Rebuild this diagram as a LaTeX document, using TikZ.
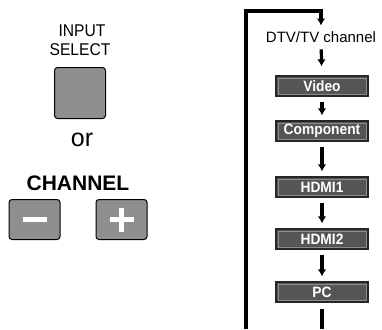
\documentclass[tikz,border=0pt]{standalone}
\usepackage{fontspec}
\setmainfont{Liberation Sans}
\newfontfamily\condfont[FakeStretch=0.92]{Liberation Sans}
\usetikzlibrary{arrows.meta,positioning}
\definecolor{btngray}{HTML}{8F8F91}
\definecolor{boxgray}{HTML}{555555}
\definecolor{bevel}{HTML}{8C8C8C}

\begin{document}
\begin{tikzpicture}[x=1pt,y=-1pt,>={Latex[length=7pt,width=8.5pt]},line width=3.2pt]
\tikzstyle{button}=[draw=black,line width=1pt,fill=btngray,rounded corners=3pt,inner sep=0pt]
\tikzstyle{source}=[draw=black!85,line width=1.2pt,fill=boxgray,text=white,minimum width=92pt,minimum height=20pt,inner sep=0pt,
  font=\condfont\bfseries\fontsize{15}{15}\selectfont,
  path picture={\draw[bevel,line width=0.8pt] ([shift={(2pt,-2pt)}]path picture bounding box.north west) rectangle ([shift={(-2pt,2pt)}]path picture bounding box.south east);}]
\tikzstyle{flow}=[->,shorten <=5pt,shorten >=5pt]
\tikzstyle{keyname}=[font=\condfont\fontsize{17}{17}\selectfont,inner sep=0pt]
\useasboundingbox (0,0) rectangle (382,329);
% buttons on the remote
\node[keyname] (input) at (82,31) {INPUT};
\node[keyname] (select) at (80,50) {SELECT};
\node[button,minimum size=51pt] (selbtn) at (80,93) {};
\node[font=\fontsize{25}{25}\selectfont] (or) at (82,140) {or};
\node[font=\bfseries\fontsize{21}{21}\selectfont] (channel) at (78,183) {CHANNEL};
\node[button,minimum width=51pt,minimum height=40pt] (chminus) at (34.5,219.5) {};
\node[button,minimum width=51pt,minimum height=40pt] (chplus) at (121.5,219.5) {};
\draw[white,line width=4.5pt] ([xshift=-12pt]chminus.center) -- ([xshift=12pt]chminus.center);
\draw[white,line width=4.5pt] ([xshift=-12pt]chplus.center) -- ([xshift=12pt]chplus.center)
  ([yshift=12pt]chplus.center) -- ([yshift=-12pt]chplus.center);
% input order
\node[font=\fontsize{15}{15}\selectfont] (dtv) at (321,37) {DTV/TV channel};
\node[source] (video) at (322,86) {Video};
\node[source] (component) at (322,131) {Component};
\node[source] (hdmi1) at (322,187) {HDMI1};
\node[source] (hdmi2) at (322,239) {HDMI2};
\node[source] (pc) at (322,292) {PC};
\coordinate (pcout) at (322,329);
\coordinate (loopbot) at (246,329);
\coordinate (looptop) at (246,11);
\draw[flow,shorten <=2pt,shorten >=9pt] (dtv) -- (video);
\draw[flow] (video) -- (component);
\draw[flow] (component) -- (hdmi1);
\draw[flow] (hdmi1) -- (hdmi2);
\draw[flow] (hdmi2) -- (pc);
\draw[shorten <=6pt] (pc) -- (pcout);
\draw[->,shorten >=1pt] (loopbot) -- (looptop) -| (dtv);
\end{tikzpicture}
\end{document}
